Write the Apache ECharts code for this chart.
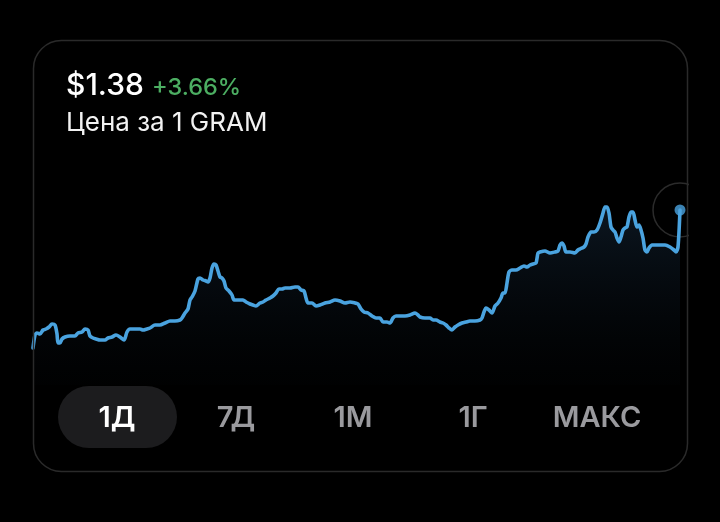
<!DOCTYPE html>
<html>
<head>
<meta charset="utf-8">
<script src="https://cdn.jsdelivr.net/npm/echarts@6/dist/echarts.min.js"></script>
<style>
html,body{margin:0;padding:0;background:#000;}
#chart{width:720px;height:522px;}
</style>
</head>
<body>
<div id="chart"></div>
<script>
// time index (minutes-like steps since start of the 1-day window)
const times = [
  0,2,4,7,10,13,16,19,22,24,
  25,27,29,32,37,42,45,49,52,55,
  57,60,63,67,72,75,79,83,87,91,
  94,97,102,107,110,114,117,122,127,132,
  137,142,147,149,152,155,157,159,162,165,
  167,170,173,175,177,179,181,183,185,187,
  189,191,193,196,199,201,204,207,210,213,
  217,220,223,227,230,233,237,240,243,246,
  249,252,257,262,265,268,271,273,275,279,
  283,287,292,297,302,307,312,317,322,325,
  328,331,335,339,343,347,350,354,357,360,
  363,367,372,377,382,385,387,392,397,400,
  403,407,410,413,416,419,422,425,429,433,
  437,442,447,449,451,453,456,459,462,465,
  468,470,472,474,476,479,483,487,491,494,
  497,500,503,505,507,512,517,522,525,527,
  529,531,533,537,542,545,547,551,553,555,
  558,561,564,567,570,572,574,576,578,580,
  582,584,586,588,590,592,594,596,598,600,
  602,604,606,608,610,612,614,616,619,623,
  627,632,637,641,643,645,647
];
// price in USD per 1 GRAM
const prices = [
  1.3248,1.3300,1.3308,1.3304,1.3320,1.3324,1.3332,1.3344,1.3340,1.3304,
  1.3268,1.3268,1.3284,1.3292,1.3296,1.3296,1.3308,1.3312,1.3324,1.3320,
  1.3296,1.3288,1.3284,1.3280,1.3280,1.3288,1.3292,1.3300,1.3292,1.3280,
  1.3312,1.3324,1.3324,1.3324,1.3320,1.3324,1.3328,1.3340,1.3340,1.3348,
  1.3356,1.3356,1.3360,1.3368,1.3388,1.3404,1.3440,1.3452,1.3476,1.3524,
  1.3528,1.3520,1.3516,1.3512,1.3528,1.3568,1.3584,1.3580,1.3556,1.3532,
  1.3528,1.3516,1.3488,1.3476,1.3460,1.3440,1.3440,1.3440,1.3440,1.3432,
  1.3424,1.3420,1.3416,1.3428,1.3432,1.3440,1.3448,1.3456,1.3468,1.3484,
  1.3484,1.3488,1.3488,1.3492,1.3492,1.3480,1.3476,1.3448,1.3428,1.3428,
  1.3416,1.3420,1.3428,1.3432,1.3440,1.3436,1.3428,1.3432,1.3428,1.3424,
  1.3404,1.3392,1.3388,1.3376,1.3368,1.3368,1.3352,1.3352,1.3348,1.3368,
  1.3376,1.3376,1.3376,1.3380,1.3388,1.3380,1.3372,1.3368,1.3368,1.3360,
  1.3360,1.3352,1.3348,1.3340,1.3328,1.3320,1.3332,1.3340,1.3348,1.3352,
  1.3356,1.3356,1.3360,1.3368,1.3392,1.3408,1.3400,1.3388,1.3416,1.3428,
  1.3448,1.3468,1.3468,1.3508,1.3552,1.3560,1.3560,1.3568,1.3576,1.3572,
  1.3580,1.3584,1.3588,1.3628,1.3632,1.3636,1.3628,1.3632,1.3636,1.3660,
  1.3668,1.3656,1.3632,1.3632,1.3628,1.3640,1.3644,1.3652,1.3664,1.3692,
  1.3712,1.3712,1.3720,1.3748,1.3788,1.3812,1.3812,1.3788,1.3732,1.3720,
  1.3712,1.3688,1.3672,1.3692,1.3720,1.3728,1.3732,1.3772,1.3792,1.3792,
  1.3760,1.3732,1.3740,1.3720,1.3688,1.3640,1.3632,1.3648,1.3660,1.3660,
  1.3660,1.3660,1.3652,1.3640,1.3632,1.3652,1.3800
];
const priceLabel = '$1.38';
const changeLabel = '+3.66%';
const subtitle = 'Цена за 1 GRAM';
const ranges = ['1Д', '7Д', '1М', '1Г', 'МАКС'];
const activeRange = 0;

const seriesData = times.map((t, i) => [t, prices[i]]);
const last = seriesData[seriesData.length - 1];

const chart = echarts.init(document.getElementById('chart'), null, {renderer: 'canvas'});
const FONT = 'Inter';
const btnCenters = [117, 236, 353, 473, 597];

const graphics = [
  {type: 'rect', z: 100, shape: {x: 689, y: 0, width: 31, height: 522}, style: {fill: '#000'}, silent: true},
  {type: 'rect', z: 101, shape: {x: 33.5, y: 40.5, width: 654, height: 431, r: 28}, style: {fill: 'none', stroke: '#2a2a2a', lineWidth: 1.5}, silent: true},
  {type: 'text', z: 102, left: 66, top: 71, style: {text: priceLabel, fill: '#ffffff', font: '500 30px ' + FONT}},
  {type: 'text', z: 102, left: 152, top: 76, style: {text: changeLabel, fill: '#4cae62', font: '500 23.5px ' + FONT}},
  {type: 'text', z: 102, left: 66, top: 110, style: {text: subtitle, fill: '#f2f2f2', font: '400 26px ' + FONT}},
  {type: 'rect', z: 102, shape: {x: 58, y: 386, width: 119, height: 62, r: 31}, style: {fill: '#1c1c1e'}}
];
ranges.forEach((r, i) => {
  graphics.push({
    type: 'text', z: 103, x: btnCenters[i], y: 418,
    style: {text: r, fill: i === activeRange ? '#ffffff' : '#9a9a9e', font: '600 29px ' + FONT, align: 'center', verticalAlign: 'middle'}
  });
});

chart.setOption({
  backgroundColor: '#000000',
  animation: false,
  grid: {left: 33, right: 33, top: 185, bottom: 137},
  xAxis: {type: 'value', min: 0, max: 654, show: false},
  yAxis: {type: 'value', min: 1.31, max: 1.39, show: false},
  graphic: graphics,
  series: [
    {
      type: 'line',
      data: seriesData,
      showSymbol: false,
      smooth: 0.25,
      lineStyle: {color: '#4aa3df', width: 3.6, cap: 'round', join: 'round'},
      areaStyle: {
        color: new echarts.graphic.LinearGradient(0, 0, 0, 1, [
          {offset: 0, color: 'rgba(30,58,86,0.55)'},
          {offset: 1, color: 'rgba(8,16,24,0.1)'}
        ])
      },
      z: 2
    },
    {
      type: 'scatter',
      data: [last],
      symbolSize: 54,
      itemStyle: {color: 'rgba(0,0,0,0)', borderColor: '#363636', borderWidth: 1.5},
      silent: true,
      z: 1
    },
    {
      type: 'scatter',
      data: [last],
      symbolSize: 11,
      itemStyle: {color: '#4aa3df'},
      silent: true,
      z: 3
    }
  ]
});
</script>
</body>
</html>
